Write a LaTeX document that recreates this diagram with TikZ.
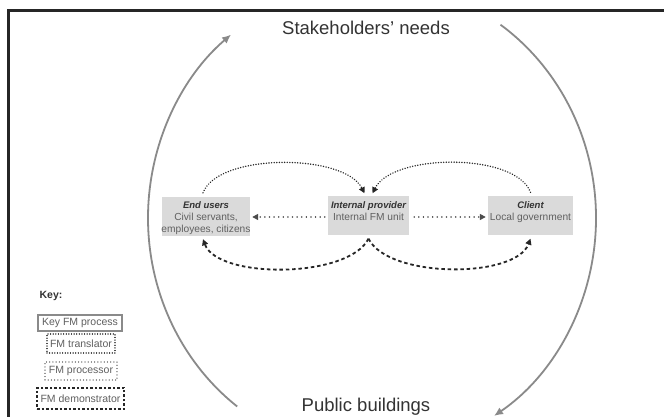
\documentclass[tikz,border=0pt]{standalone}
\usepackage{fontspec}
\setmainfont{Liberation Sans}
\usetikzlibrary{arrows.meta,calc}
\definecolor{arcgray}{HTML}{8A8A8A}
\definecolor{boxfill}{HTML}{DADADA}
\definecolor{txtdark}{HTML}{333333}
\definecolor{txtgray}{HTML}{606060}
\begin{document}
\begin{tikzpicture}[x=1pt,y=1pt,
  bigarc/.style={draw=arcgray, line width=1.8pt, -{Latex[length=9pt,width=8pt]}},
  fmbox/.style={fill=boxfill, draw=none, minimum height=39pt, inner sep=0pt},
  ttl/.style={font=\fontsize{9.5}{11}\selectfont\bfseries\itshape, text=txtdark, anchor=base, inner sep=0pt},
  sub/.style={font=\fontsize{10.2}{12}\selectfont, text=txtgray, anchor=base, inner sep=0pt},
  biglabel/.style={font=\fontsize{18.5}{22}\selectfont, text=txtdark, anchor=base, inner sep=0pt},
  translator/.style={draw=black!85, line width=1.6pt, dash pattern=on 0.01pt off 2.6pt, line cap=round},
  processor/.style={draw=black!70, line width=1.6pt, dash pattern=on 0.01pt off 4.6pt, line cap=round},
  demonstrator/.style={draw=black!85, line width=1.8pt, dash pattern=on 3.5pt off 2.8pt},
  tip/.style={-{Triangle[length=6pt,width=6pt]}},
  legbox/.style={font=\fontsize{10.5}{12}\selectfont, text=txtgray, inner sep=1pt}
]
\useasboundingbox (0,0) rectangle (664,417);
\fill[white] (0,0) rectangle (664,417);

% frame
\draw[line width=2.5pt, draw=black!85] (8.5,-2) -- (8.5,406.7) -- (666,406.7);

% big arcs
\coordinate (lb) at (237.2,10.5);
\draw[bigarc] (lb) arc[start angle=233, end angle=129, x radius=224, y radius=236];
\coordinate (rt) at (500.5,392.3);
\draw[bigarc] (rt) arc[start angle=55, end angle=-57, x radius=224, y radius=236];

\node[biglabel] (needs) at (366,382.7) {Stakeholders’ needs};
\node[biglabel] (buildings) at (366,5.3) {Public buildings};

% boxes
\node[fmbox, minimum width=88pt] (eu) at (206,200.5) {};
\node[fmbox, minimum width=81pt] (ip) at (368.5,201) {};
\node[fmbox, minimum width=85pt] (cl) at (530.5,201) {};

\node[ttl] (eut) at (206,208.4) {End users};
\node[sub] (eus1) at (206,196.4) {Civil servants,};
\node[sub] (eus2) at (206,184.4) {employees, citizens};
\node[ttl] (ipt) at (368.5,208.4) {Internal provider};
\node[sub] (ips) at (368.5,196.4) {Internal FM unit};
\node[ttl] (clt) at (530.5,208.4) {Client};
\node[sub] (cls) at (530.5,196.4) {Local government};

% horizontal dotted arrows
\draw[processor, tip] ([xshift=-3pt,yshift=-1pt]ip.west) -- ([xshift=2pt,yshift=-0.5pt]eu.east);
\draw[processor, tip] ([xshift=5pt,yshift=-1pt]ip.east) -- ([xshift=-2pt,yshift=-1pt]cl.west);

% top dotted curves
\draw[translator, tip] ([xshift=-3pt,yshift=4pt]eu.north) .. controls +(15,40) and +(-20,40) .. ([xshift=-4pt,yshift=3pt]ip.north);
\draw[translator, tip] ([yshift=4pt]cl.north) .. controls +(-15,40) and +(20,40) .. ([xshift=4pt,yshift=3pt]ip.north);

% bottom dashed curves
\draw[demonstrator, tip] ([yshift=-3pt]ip.south) .. controls +(-20,-40) and +(15,-40) .. ([xshift=-3pt,yshift=-3pt]eu.south);
\draw[demonstrator, tip] ([yshift=-3pt]ip.south) .. controls +(20,-40) and +(-15,-40) .. ([yshift=-3pt]cl.south);

% key
\node[font=\fontsize{10.5}{12}\selectfont\bfseries, text=txtdark] (key) at (51,121) {Key:};
\node[legbox, draw=arcgray, line width=1.3pt, minimum width=84pt, minimum height=16pt] (k1) at (80,94) {Key FM process};
\node[legbox, translator, line width=1.3pt, minimum width=68pt, minimum height=19pt] (k2) at (81,73.5) {FM translator};
\node[legbox, processor, draw=black!50, line width=1.3pt, dash pattern=on 0.01pt off 3.2pt, minimum width=72pt, minimum height=18pt] (k3) at (81,46) {FM processor};
\node[legbox, demonstrator, line width=1.5pt, dash pattern=on 2.5pt off 2pt, minimum width=87pt, minimum height=21pt] (k4) at (80.5,18.5) {FM demonstrator};
\end{tikzpicture}
\end{document}
